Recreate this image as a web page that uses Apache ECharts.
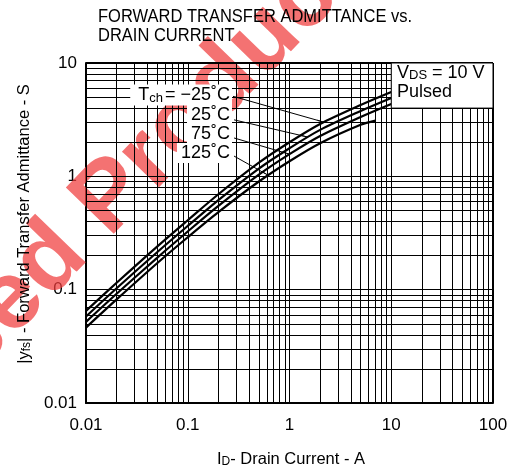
<!DOCTYPE html>
<html>
<head>
<meta charset="utf-8">
<script src="https://cdn.jsdelivr.net/npm/echarts@6/dist/echarts.min.js"></script>
<style>
html,body{margin:0;padding:0;background:#fff;}
#c{width:516px;height:472px;}
</style>
</head>
<body>
<div id="c"></div>
<script>
// ---- data ----
const current = [0.01, 0.02, 0.05, 0.1, 0.2, 0.5, 1, 2, 5, 10];
const yfsM25 = [0.065, 0.115, 0.24, 0.41, 0.695, 1.32, 2.0, 2.9, 4.26, 5.55];
const yfs25  = [0.058, 0.103, 0.214, 0.365, 0.617, 1.17, 1.77, 2.57, 3.77, 4.91];
const yfs75  = [0.052, 0.092, 0.191, 0.326, 0.548, 1.035, 1.57, 2.27, 3.34, 4.35];
const current125 = [0.01, 0.02, 0.05, 0.1, 0.2, 0.5, 1, 2, 5, 7];
const yfs125 = [0.0463, 0.082, 0.171, 0.29, 0.483, 0.9, 1.36, 1.96, 2.85, 3.1];

const xDecades = [0.01, 0.1, 1, 10];
const yDecades = [0.01, 0.1, 1];
const mantissas = [1, 2, 3, 4, 5, 6, 7, 8, 9];
const xTickLabels = ['0.01', '0.1', '1', '10', '100'];
const yTickLabels = ['0.01', '0.1', '1', '10'];

// leader lines: [label end point, point on curve]
const leaderM25 = [[0.2785, 5.08], [2.2, 3.0]];
const leader25  = [[0.285, 3.15], [1.52, 2.22]];
const leader75  = [[0.285, 2.18], [1.0, 1.57]];
const leader125 = [[0.285, 1.51], [0.62, 1.02]];
const boxArea = [10, 4, 100, 10];

const gridX = xDecades.flatMap(d => mantissas.map(m => +(m * d).toPrecision(3))).concat([100]);
const gridY = yDecades.flatMap(d => mantissas.map(m => +(m * d).toPrecision(3))).concat([10]);

const FONT = "'Liberation Sans', Arial, Helvetica, sans-serif";
const pair = (xs, ys) => xs.map((x, i) => [x, ys[i]]);

const chart = echarts.init(document.getElementById('c'), null, {renderer: 'canvas'});
const curveStyle = {color: '#000', width: 2.2};
const option = {
  animation: false,
  backgroundColor: '#fff',
  grid: {left: 86, right: 23, top: 63, bottom: 69, show: false},
  xAxis: {
    type: 'log', logBase: 10, min: 0.01, max: 100,
    axisLine: {show: true, onZero: false, lineStyle: {color: '#000', width: 2}},
    axisTick: {show: false},
    splitLine: {show: false},
    axisLabel: {
      color: '#000', fontFamily: FONT, fontSize: 17, margin: 14,
      formatter: v => { const s = xTickLabels.find(t => Math.abs(parseFloat(t) - v) / v < 1e-6); return s || ''; }
    }
  },
  yAxis: {
    type: 'log', logBase: 10, min: 0.01, max: 10,
    axisLine: {show: true, onZero: false, lineStyle: {color: '#000', width: 2}},
    axisTick: {show: false},
    splitLine: {show: false},
    axisLabel: {
      color: '#000', fontFamily: FONT, fontSize: 17, margin: 9,
      formatter: v => { const s = yTickLabels.find(t => Math.abs(parseFloat(t) - v) / v < 1e-6); return s || ''; }
    }
  },
  series: [
    {
      type: 'line', data: [], z: 2, silent: true,
      markLine: {
        silent: true, symbol: 'none', label: {show: false}, animation: false,
        lineStyle: {type: 'solid', color: '#000', width: 1},
        emphasis: {disabled: true},
        data: gridX.map(v => ({xAxis: v})).concat(gridY.map(v => ({yAxis: v})))
      }
    },
    {
      type: 'line', data: [], z: 2, silent: true,
      markLine: {
        silent: true, symbol: 'none', label: {show: false}, animation: false,
        lineStyle: {type: 'solid', color: '#000', width: 2},
        emphasis: {disabled: true},
        data: [{xAxis: 100}, {yAxis: 10}]
      }
    },
    {type: 'line', name: '-25', data: pair(current, yfsM25), smooth: 0.3, symbol: 'none', lineStyle: curveStyle, z: 3},
    {type: 'line', name: '25', data: pair(current, yfs25), smooth: 0.3, symbol: 'none', lineStyle: curveStyle, z: 3},
    {type: 'line', name: '75', data: pair(current, yfs75), smooth: 0.3, symbol: 'none', lineStyle: curveStyle, z: 3},
    {type: 'line', name: '125', data: pair(current125, yfs125), smooth: 0.3, symbol: 'none', lineStyle: curveStyle, z: 3},
    {
      type: 'custom', z: 6, silent: true, clip: false,
      data: [boxArea],
      renderItem: (params, api) => {
        const p0 = api.coord([api.value(0), api.value(1)]);
        const p1 = api.coord([api.value(2), api.value(3)]);
        return {
          type: 'rect',
          shape: {x: p0[0], y: p1[1], width: p1[0] - p0[0], height: p0[1] - p1[1]},
          style: {fill: '#fff', stroke: '#000', lineWidth: 1}
        };
      }
    },
    {
      type: 'line', data: [], z: 5, silent: true,
      markLine: {
        silent: true, animation: false, symbol: ['none', 'arrow'], symbolSize: [1, 8],
        label: {show: false}, emphasis: {disabled: true},
        lineStyle: {type: 'solid', color: '#000', width: 1},
        data: [leaderM25, leader25, leader75, leader125].map(l => [{coord: l[0]}, {coord: l[1]}])
      }
    }
  ],
  graphic: [
    {
      type: 'text', z: 1, silent: true, x: 150, y: 158, rotation: 0.8,
      style: {text: 'sed Product', font: "bold 97px " + FONT, fill: 'rgba(240,60,60,0.72)', align: 'center', verticalAlign: 'middle'}
    },
    {
      type: 'text', z: 20, silent: true, left: 98, top: 7, scaleY: 1.12,
      style: {text: 'FORWARD TRANSFER ADMITTANCE vs.\nDRAIN CURRENT', font: "16.5px " + FONT, fill: '#000', lineHeight: 17}
    },
    {
      type: 'text', z: 20, silent: true, x: 232, y: 95,
      style: {
        text: '{a|T}{s|ch}{a|= −25˚C}', align: 'right', verticalAlign: 'middle',
        backgroundColor: '#fff', padding: [1, 2, 1, 8],
        rich: {a: {font: "18px " + FONT, fill: '#000'}, s: {font: "13px " + FONT, fill: '#000', padding: [6, 2, 0, 0]}}
      }
    },
    {type: 'text', z: 20, silent: true, x: 232, y: 115, style: {text: '25˚C', font: "18px " + FONT, fill: '#000', align: 'right', verticalAlign: 'middle', backgroundColor: '#fff', padding: [1, 2, 1, 4]}},
    {type: 'text', z: 20, silent: true, x: 232, y: 134, style: {text: '75˚C', font: "18px " + FONT, fill: '#000', align: 'right', verticalAlign: 'middle', backgroundColor: '#fff', padding: [1, 2, 1, 4]}},
    {type: 'text', z: 20, silent: true, x: 232, y: 153, style: {text: '125˚C', font: "18px " + FONT, fill: '#000', align: 'right', verticalAlign: 'middle', backgroundColor: '#fff', padding: [1, 2, 1, 4]}},
    {
      type: 'text', z: 20, silent: true, x: 397, y: 73,
      style: {
        text: '{a|V}{s|DS}{a| = 10 V}', verticalAlign: 'middle',
        rich: {a: {font: "18px " + FONT, fill: '#000'}, s: {font: "13px " + FONT, fill: '#000', padding: [4, 0, 0, 0]}}
      }
    },
    {type: 'text', z: 20, silent: true, x: 397, y: 92, style: {text: 'Pulsed', font: "18px " + FONT, fill: '#000', verticalAlign: 'middle'}},
    {
      type: 'text', z: 20, silent: true, x: 291, y: 459,
      style: {
        text: '{a|I}{s|D}{a|- Drain Current - A}', align: 'center', verticalAlign: 'middle',
        rich: {a: {font: "16.5px " + FONT, fill: '#000'}, s: {font: "12px " + FONT, fill: '#000', padding: [5, 0, 0, 0]}}
      }
    },
    {
      type: 'text', z: 20, silent: true, x: 24, y: 224, rotation: Math.PI / 2,
      style: {
        text: '{a||y}{s|fs}{a|| - Forward Transfer Admittance - S}', align: 'center', verticalAlign: 'middle',
        rich: {a: {font: "16.5px " + FONT, fill: '#000'}, s: {font: "12px " + FONT, fill: '#000', padding: [5, 0, 0, 0]}}
      }
    }
  ]
};
chart.setOption(option);
</script>
</body>
</html>
